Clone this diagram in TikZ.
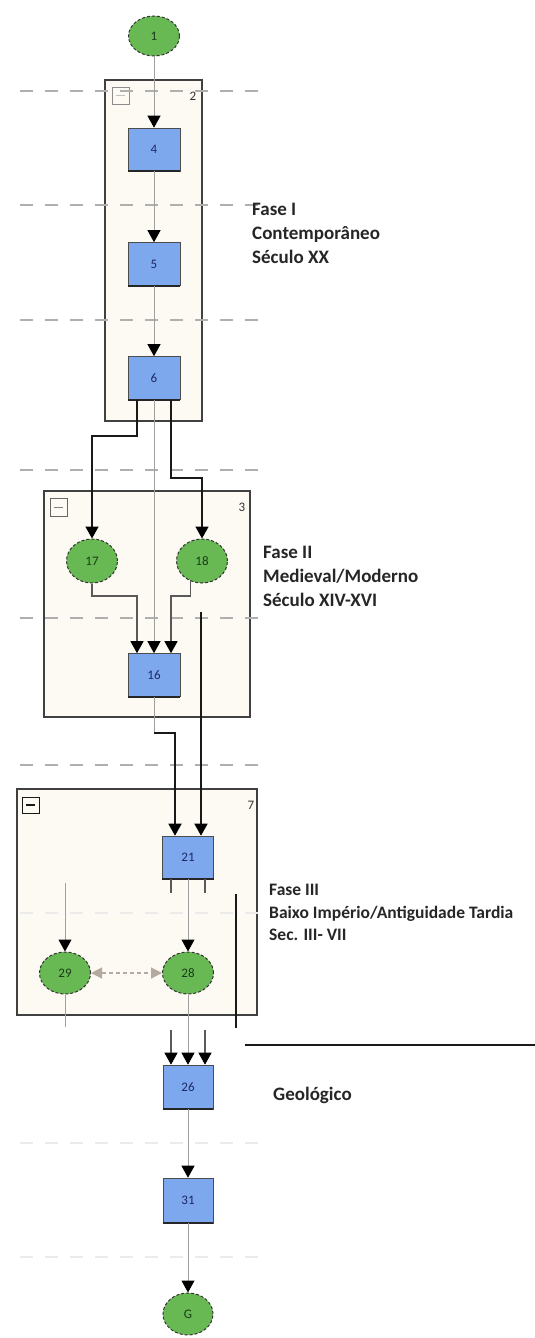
\documentclass[tikz,border=0pt]{standalone}
\usepackage{fontspec}
\setmainfont{Carlito}
\usetikzlibrary{arrows.meta,shapes.geometric}
\definecolor{boxblue}{RGB}{125,168,238}
\definecolor{nodegreen}{RGB}{104,184,84}
\definecolor{cream}{RGB}{253,250,243}
\definecolor{numblue}{RGB}{30,40,100}
\definecolor{numgreen}{RGB}{25,60,25}
\definecolor{edgegray}{RGB}{160,160,160}
\definecolor{guidegray}{RGB}{175,175,175}
\definecolor{biarrow}{RGB}{180,170,160}
\begin{document}
\begin{tikzpicture}[x=1pt,y=-1pt,
  numfont/.style={font=\fontsize{13}{15}\selectfont},
  box/.style={rectangle,draw=gray!60!black,line width=0.6pt,fill=boxblue,
    minimum width=52pt,minimum height=43pt,inner sep=0pt,numfont,text=numblue},
  ell/.style={ellipse,draw=black!80,dash pattern=on 3pt off 2pt,line width=1pt,
    fill=nodegreen,minimum width=51pt,minimum height=42pt,inner sep=0pt,numfont,text=numgreen},
  cont/.style={draw=black!75,line width=1.6pt,fill=cream},
  contlabel/.style={numfont,text=black!80,inner sep=0pt},
  guide/.style={draw=guidegray,line width=1.3pt,dash pattern=on 13pt off 12pt},
  faintguide/.style={draw=black!8,line width=1.3pt,dash pattern=on 13pt off 12pt},
  gline/.style={draw=edgegray,line width=1pt},
  dgline/.style={draw=black!65,line width=1.1pt},
  bline/.style={draw=black!90,line width=1.6pt},
  tipb/.style={-{Triangle[width=13pt,length=12pt,color=black]}},
  phase/.style={anchor=base west,inner sep=0pt,text=black!85,font=\bfseries\fontsize{19}{24}\selectfont},
  phasesm/.style={anchor=base west,inner sep=0pt,text=black!85,font=\bfseries\fontsize{17.5}{22}\selectfont}
]
\useasboundingbox[fill=white] (0,0) rectangle (535,1338);

% containers
\draw[cont] (105,80) rectangle (202,421);
\draw[cont] (44,491) rectangle (250,717);
\draw[cont] (17,789) rectangle (257,1015);

% container icons and labels
\draw[black!45,line width=0.8pt] (112,87) rectangle (129,104);
\draw[black!25,line width=0.8pt] (116,95.5) -- (125,95.5);
\draw[black!60,line width=0.8pt] (50,498) rectangle (67,516);
\draw[black!50,line width=0.8pt] (54,507) -- (63,507);
\draw[black!90,line width=1pt] (22,797) rectangle (39,813);
\draw[black!90,line width=1.2pt] (26,805) -- (35,805);
\node[contlabel] (l2) at (193,96) {2};
\node[contlabel] (l3) at (242,507) {3};
\node[contlabel] (l7) at (251,805) {7};

% guide lines
\foreach \yy in {91,205,320,470,618,765} {\draw[guide] (20,\yy) -- (267,\yy);}
\foreach \yy in {913,1143,1257} {\draw[faintguide] (20,\yy) -- (262,\yy);}

% nodes
\node[ell,minimum height=40pt] (n1) at (154,36) {1};
\node[box] (n4) at (154,149.5) {4};
\node[box] (n5) at (154,264) {5};
\node[box] (n6) at (154,378) {6};
\node[ell,minimum height=44pt] (n17) at (92,561) {17};
\node[ell,minimum height=44pt] (n18) at (202,561) {18};
\node[box] (n16) at (154,675) {16};
\node[box,minimum width=51pt] (n21) at (188,857.5) {21};
\node[ell] (n29) at (65,973) {29};
\node[ell] (n28) at (188,973) {28};
\node[box,minimum width=50pt,minimum height=44pt] (n26) at (188,1087) {26};
\node[box,minimum width=50pt,minimum height=45pt] (n31) at (188,1200.5) {31};
\node[ell,minimum width=50pt] (nG) at (188,1314) {G};

% thick bottom edges of boxes
\foreach \n in {n4,n5,n6,n16,n21,n26,n31} {\draw[black!85,line width=2pt] (\n.south west) -- (\n.south east);}

% connectors: central chain
\draw[gline,tipb] (n1) -- (n4);
\draw[gline,tipb] (n4) -- (n5);
\draw[gline,tipb] (n5) -- (n6);
\draw[gline,tipb] (n6.south) -- (n16.north);

% 6 -> 17, 6 -> 18
\draw[bline,tipb] ([xshift=-17pt]n6.south) -- ++(0,36) -| (n17.north);
\draw[bline,tipb] ([xshift=17pt]n6.south) -- ++(0,78) -| (n18.north);

% 17 -> 16, 18 -> 16
\draw[dgline,tipb] (n17.south) |- (137,596) -- ([xshift=-17pt]n16.north);
\draw[dgline,tipb] (n18.240) |- (171,596) -- ([xshift=17pt]n16.north);

% 16 -> 21, 18 -> 21
\draw[gline] (n16.south) -- (154,733);
\draw[bline,tipb] (154,733) -| ([xshift=-13pt]n21.north);
\coordinate (c18) at (201,612);
\draw[bline,tipb] (c18) -- ([xshift=13pt]n21.north);

% 21 -> 28 and ticks
\draw[gline,tipb] (n21.south) -- (n28.north);
\draw[dgline] ([xshift=-17pt]n21.south) -- ++(0,14);
\draw[dgline] ([xshift=17pt]n21.south) -- ++(0,14);

% into 29 and below 29
\coordinate (a29) at (65,883);
\draw[gline,tipb] (a29) -- (n29.north);
\coordinate (b29) at (65,1027);
\draw[gline] (n29.south) -- (b29);

% 29 <-> 28
\draw[draw=biarrow,line width=1.2pt,dash pattern=on 4pt off 3pt,
  {Triangle[width=11pt,length=11pt,color=biarrow]}-{Triangle[width=11pt,length=11pt,color=biarrow]}]
  (n29.east) -- (n28.west);

% black side line and horizontal line
\coordinate (v1) at (236,894);
\coordinate (v2) at (236,1028);
\draw[black!90,line width=1.3pt] (v1) -- (v2);
\coordinate (h1) at (245,1045);
\coordinate (h2) at (535,1045);
\draw[black!90,line width=1.6pt] (h1) -- (h2);

% into 26
\draw[gline,tipb] (n28.south) -- (n26.north);
\coordinate (t1) at (171,1030);
\coordinate (t2) at (205,1030);
\draw[dgline,tipb] (t1) -- ([xshift=-17pt]n26.north);
\draw[dgline,tipb] (t2) -- ([xshift=17pt]n26.north);

% 26 -> 31 -> G
\draw[gline,tipb] (n26) -- (n31);
\draw[gline,tipb] (n31) -- (nG);

% phase labels
\node[phase] (p1a) at (252,215) {Fase I};
\node[phase] (p1b) at (252,239) {Contemporâneo};
\node[phase] (p1c) at (252,263) {Século XX};
\node[phase] (p2a) at (263,558) {Fase II};
\node[phase] (p2b) at (263,582) {Medieval/Moderno};
\node[phase] (p2c) at (263,606) {Século XIV-XVI};
\node[phasesm] (p3a) at (269,895) {Fase III};
\node[phasesm] (p3b) at (269,918) {Baixo Império/Antiguidade Tardia};
\node[phasesm] (p3c) at (269,940) {Sec. III- VII};
\node[phase] (p4) at (273,1100) {Geológico};
\end{tikzpicture}
\end{document}
